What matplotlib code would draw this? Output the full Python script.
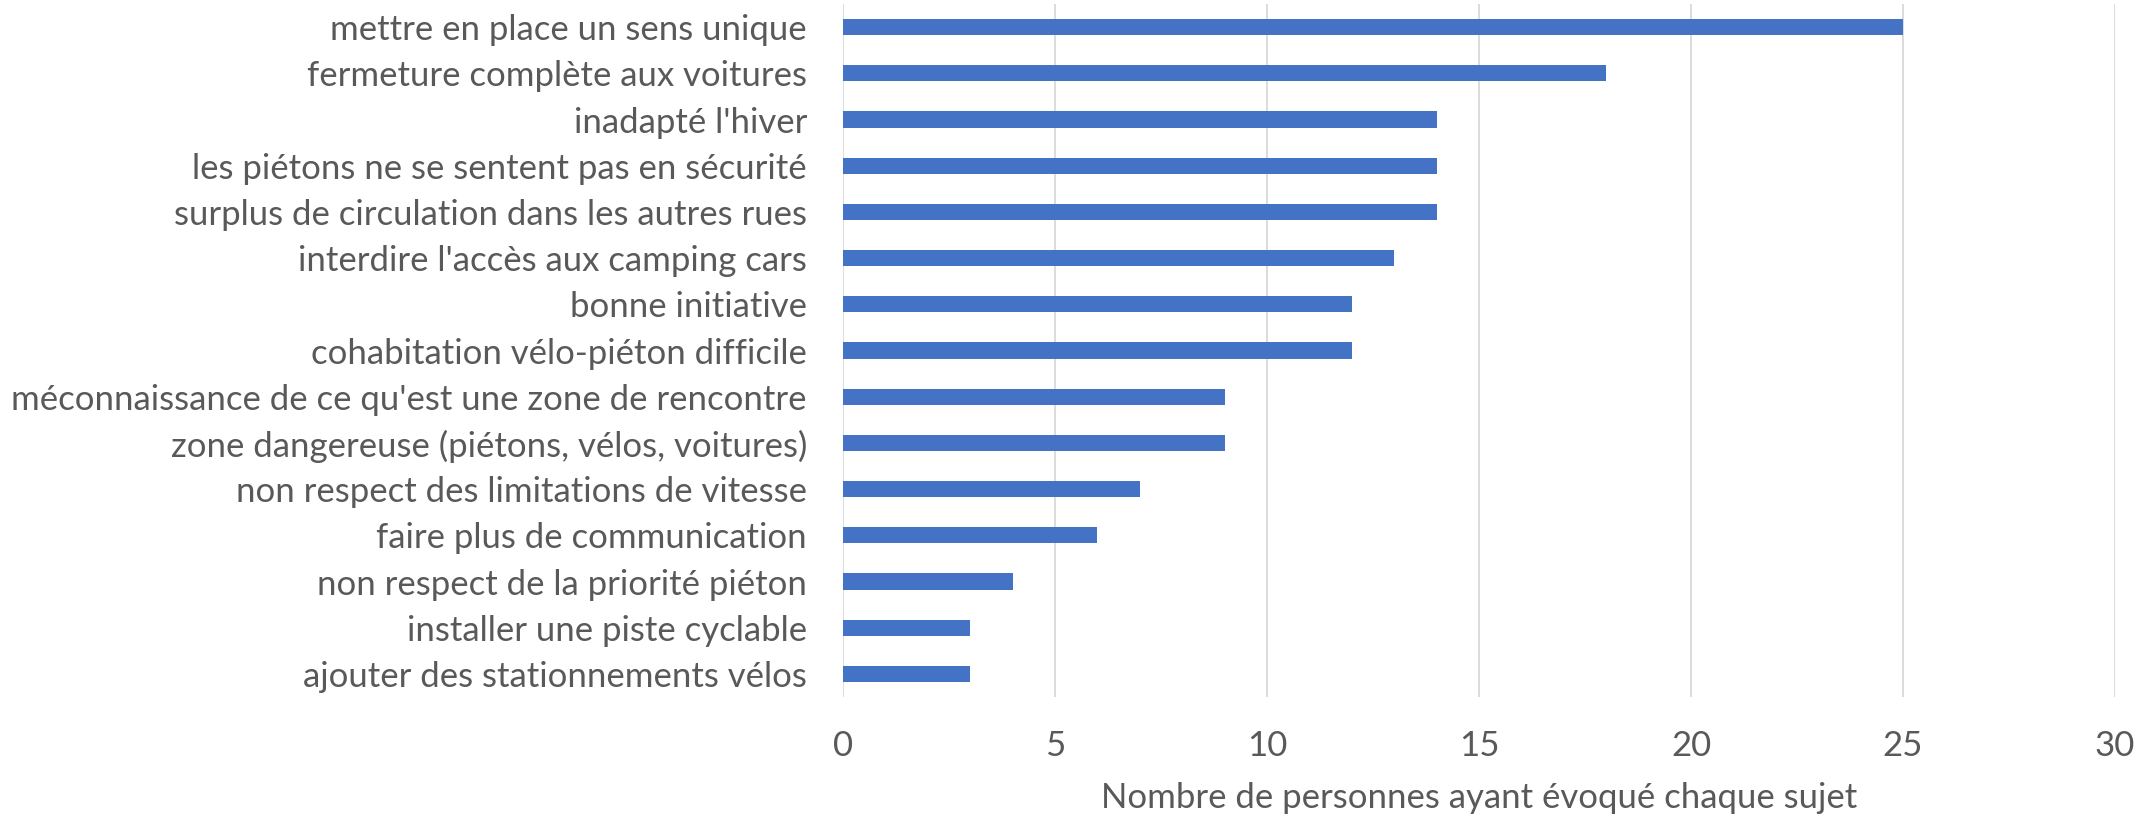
import matplotlib.pyplot as plt

# Data
topics = [
    "mettre en place un sens unique",
    "fermeture complète aux voitures",
    "inadapté l'hiver",
    "les piétons ne se sentent pas en sécurité",
    "surplus de circulation dans les autres rues",
    "interdire l'accès aux camping cars",
    "bonne initiative",
    "cohabitation vélo-piéton difficile",
    "méconnaissance de ce qu'est une zone de rencontre",
    "zone dangereuse (piétons, vélos, voitures)",
    "non respect des limitations de vitesse",
    "faire plus de communication",
    "non respect de la priorité piéton",
    "installer une piste cyclable",
    "ajouter des stationnements vélos",
]
counts = [25, 18, 14, 14, 14, 13, 12, 12, 9, 9, 7, 6, 4, 3, 3]
xticks = [0, 5, 10, 15, 20, 25, 30]

plt.rcParams['font.family'] = ['Lato', 'DejaVu Sans']
txt = '#595959'

fig = plt.figure(figsize=(21.54, 8.16), dpi=100)
ax = fig.add_axes([0.3914, 0.1458, 0.5905, 0.8492])

ypos = list(range(len(topics)))[::-1]
ax.barh(ypos, counts, height=0.35, color='#4472C4', zorder=3)

ax.set_xlim(0, 30)
ax.set_ylim(-0.5, len(topics) - 0.5)
ax.set_xticks(xticks)
ax.set_xticklabels([str(t) for t in xticks])
ax.set_yticks(ypos)
ax.set_yticklabels(topics)

ax.grid(axis='x', color='#d9d9d9', linewidth=1.3, zorder=0)
for s in ax.spines.values():
    s.set_visible(False)
ax.tick_params(axis='both', length=0, labelsize=25, colors=txt)
ax.tick_params(axis='y', pad=26)
ax.tick_params(axis='x', pad=24)
ax.set_xlabel("Nombre de personnes ayant évoqué chaque sujet", fontsize=25,
              color=txt, labelpad=14)

fig.savefig('out.png', dpi=100)
